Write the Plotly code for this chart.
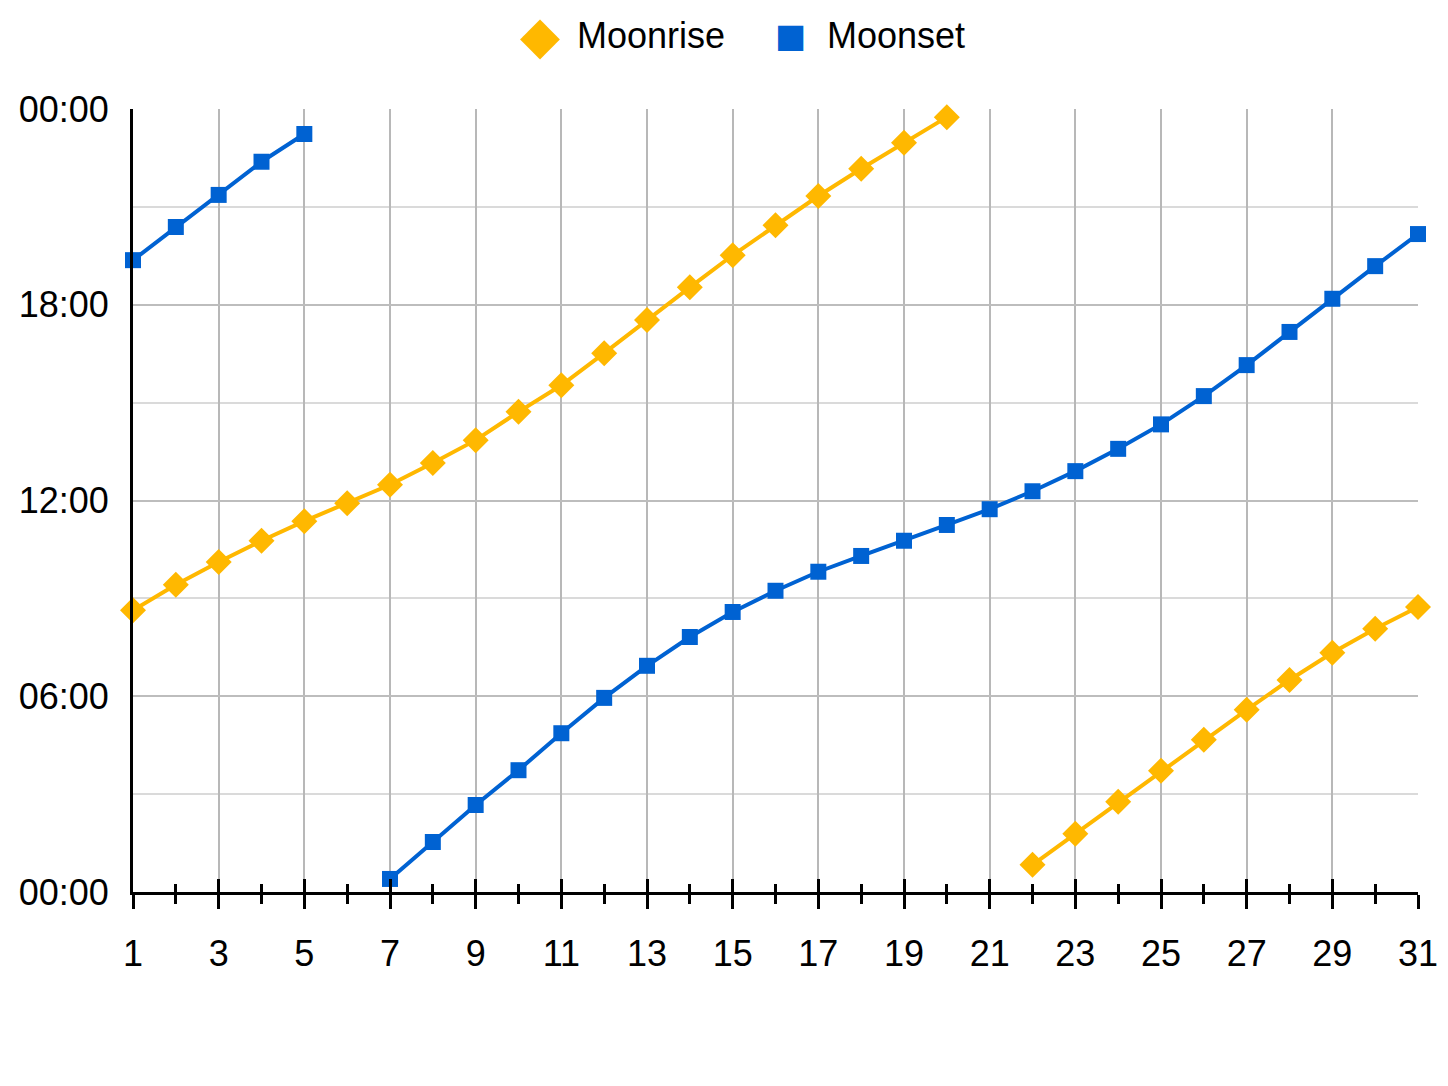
import plotly.graph_objects as go

days = list(range(1, 32))
moonrise = ["08:38", "09:25", "10:07", "10:46", "11:22", "11:55", "12:29", "13:09",
            "13:51", "14:43", "15:32", "16:31", "17:32", "18:32", "19:31", "20:26",
            "21:20", "22:10", "22:58", "23:45", None, "00:50", "01:47", "02:46",
            "03:43", "04:40", "05:35", "06:30", "07:20", "08:04", "08:44"]
moonset = ["19:22", "20:23", "21:22", "22:23", "23:14", None, "00:24", "01:32",
           "02:40", "03:44", "04:52", "05:57", "06:56", "07:49", "08:35", "09:14",
           "09:49", "10:18", "10:46", "11:15", "11:44", "12:17", "12:54", "13:35",
           "14:20", "15:12", "16:09", "17:10", "18:11", "19:11", "20:10"]
series_names = ["Moonrise", "Moonset"]
y_tickvals = [0, 6, 12, 18, 24]
y_ticktext = ["00:00", "06:00", "12:00", "18:00", "00:00"]
x_tickvals = list(range(1, 32, 2))
x_minorvals = list(range(2, 31, 2))


def to_hours(t):
    if t is None:
        return None
    h, m = t.split(":")
    return int(h) + int(m) / 60.0


FONT = "Liberation Sans, Arial, sans-serif"
RISE_C = "#FFB800"
SET_C = "#0062D2"

fig = go.Figure()
fig.add_trace(go.Scatter(
    x=days, y=[to_hours(t) for t in moonrise], name=series_names[0],
    mode="lines+markers", connectgaps=False, cliponaxis=False, showlegend=False,
    line=dict(color=RISE_C, width=4),
    marker=dict(symbol="diamond", size=20, color=RISE_C),
))
fig.add_trace(go.Scatter(
    x=days, y=[to_hours(t) for t in moonset], name=series_names[1],
    mode="lines+markers", connectgaps=False, cliponaxis=False, showlegend=False,
    line=dict(color=SET_C, width=4),
    marker=dict(symbol="square", size=16, color=SET_C),
))
# invisible trace to carry the overlay axis (upper half of the crossing tick marks)
fig.add_trace(go.Scatter(x=[days[0], days[-1]], y=[0, 0], xaxis="x2", mode="lines",
                         line=dict(width=0), showlegend=False, hoverinfo="skip"))

# legend drawn as text (large symbols like the reference)
LEG_Y = 1.0945
legend_items = [
    (series_names[0], "◆", RISE_C, 0.3165, 0.3439, 52),
    (series_names[1], "■", SET_C, 0.5115, 0.5385, 33),
]
for name, sym, col, xsym, xtxt, symsize in legend_items:
    fig.add_annotation(
        xref="paper", yref="paper", x=xsym, y=LEG_Y, xanchor="center", yanchor="middle",
        text=sym, showarrow=False, font=dict(family="DejaVu Sans", size=symsize, color=col),
    )
    fig.add_annotation(
        xref="paper", yref="paper", x=xtxt, y=LEG_Y, xanchor="left", yanchor="middle",
        text=name, showarrow=False, font=dict(family=FONT, size=36, color="black"),
    )

fig.update_layout(
    width=1448, height=1086,
    margin=dict(l=133, r=30, t=109, b=194, autoexpand=False),
    paper_bgcolor="white", plot_bgcolor="white",
    font=dict(family=FONT, size=36, color="black"),
    showlegend=False,
    xaxis=dict(
        range=[1, 31], tickvals=x_tickvals, ticktext=[str(v) for v in x_tickvals],
        showgrid=True, gridcolor="#b8b8b8", gridwidth=2,
        showline=True, linecolor="black", linewidth=3,
        ticks="outside", ticklen=14, tickwidth=3, tickcolor="black",
        minor=dict(tickvals=x_minorvals, ticks="outside", ticklen=9,
                   tickwidth=2.5, tickcolor="black", showgrid=False),
        ticklabelstandoff=14, zeroline=False,
        tickfont=dict(family=FONT, size=36),
    ),
    xaxis2=dict(
        range=[1, 31], overlaying="x", anchor="y", side="bottom",
        tickvals=x_tickvals, ticktext=["" for _ in x_tickvals],
        showticklabels=False, showgrid=False,
        ticks="inside", ticklen=13, tickwidth=3, tickcolor="black",
        minor=dict(tickvals=x_minorvals, ticks="inside", ticklen=8,
                   tickwidth=2.5, tickcolor="black", showgrid=False),
        showline=False, zeroline=False,
    ),
    yaxis=dict(
        range=[0, 24], tickvals=y_tickvals, ticktext=y_ticktext,
        showgrid=True, gridcolor="#bdbdbd", gridwidth=2,
        minor=dict(dtick=3, showgrid=True, gridcolor="#dadada", gridwidth=2),
        showline=True, linecolor="black", linewidth=3,
        ticks="", ticklabelstandoff=14, zeroline=False,
        tickfont=dict(family=FONT, size=36),
    ),
)

fig.write_html("out.html")
